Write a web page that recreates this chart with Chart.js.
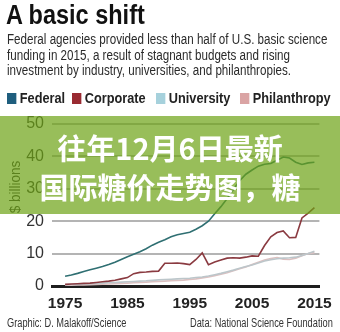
<!DOCTYPE html>
<html>
<head>
<meta charset="utf-8">
<script src="https://cdn.jsdelivr.net/npm/chart.js@4.4.1/dist/chart.umd.min.js"></script>
<style>
  html, body { margin: 0; padding: 0; background: #fff; }
  #wrap { position: relative; width: 340px; height: 332px; overflow: hidden; font-family: "Liberation Sans", Arial, sans-serif; color: #222; }
  #grafico { position: absolute; left: 0; top: 0; }
  .angosto { transform-origin: left top; white-space: nowrap; }
  #titulo { position: absolute; left: 6px; top: 1px; font-size: 27px; font-weight: bold; color: #111; line-height: 29px; transform: scaleX(0.87); }
  #subtitulo { position: absolute; left: 7px; top: 32px; font-size: 14px; line-height: 15.5px; color: #2a2a2a; transform: scaleX(0.83); }
  .leyenda { position: absolute; top: 90px; font-size: 15px; font-weight: bold; line-height: 15px; transform: scaleX(0.85); }
  .leyenda span { display: inline-block; width: 11px; height: 11px; margin-right: 4px; vertical-align: -1px; }
  #ytitulo { position: absolute; left: 14px; top: 187px; transform: translate(-50%, -50%) rotate(-90deg) scaleX(0.9); font-size: 15px; color: #333; white-space: nowrap; }
  #banda { position: absolute; left: 0; top: 116px; width: 340px; height: 98px; background: rgba(108, 162, 20, 0.7); }
  #banda div { position: absolute; left: 0; width: 340px; text-align: center; color: #fff; font-family: "Noto Sans CJK SC", sans-serif; font-weight: bold; font-size: 29px; line-height: 34px; }
  .credito { position: absolute; top: 316px; font-size: 12px; color: #333; transform: scaleX(0.77); }
</style>
</head>
<body>
<div id="wrap">
  <canvas id="grafico" width="340" height="332"></canvas>
  <div id="titulo" class="angosto">A basic shift</div>
  <div id="subtitulo" class="angosto">Federal agencies provided less than half of U.S. basic science<br>funding in 2015, a result of stagnant budgets and rising<br>investment by industry, universities, and philanthropies.</div>
  <div class="leyenda angosto" style="left:7px"><span style="background:#1f5e7e"></span>Federal</div>
  <div class="leyenda angosto" style="left:72px"><span style="background:#992a31"></span>Corporate</div>
  <div class="leyenda angosto" style="left:156px"><span style="background:#a6d1dc"></span>University</div>
  <div class="leyenda angosto" style="left:240px"><span style="background:#daa4a4"></span>Philanthropy</div>
  <div id="ytitulo">$ billions</div>
  <div id="banda">
    <div style="top:14px">往年12月6日最新</div>
    <div style="top:53px">国际糖价走势图，糖</div>
  </div>
  <div class="credito angosto" style="left:7px">Graphic: D. Malakoff/Science</div>
  <div class="credito angosto" style="left:190px">Data: National Science Foundation</div>
</div>
<script>
//años del eje x
const years = [1975, 1976, 1977, 1978, 1979, 1980, 1981, 1982, 1983, 1984,
  1985, 1986, 1987, 1988, 1989, 1990, 1991, 1992, 1993, 1994,
  1995, 1996, 1997, 1998, 1999, 2000, 2001, 2002, 2003, 2004,
  2005, 2006, 2007, 2008, 2009, 2010, 2011, 2012, 2013, 2014, 2015];

//valores ($ billions)
const federal = [3.0, 3.4, 3.9, 4.5, 5.0, 5.5, 6.0, 6.6, 7.3, 8.2,
  9.0, 9.8, 10.6, 11.5, 12.6, 13.5, 14.3, 15.2, 15.8, 16.2,
  16.6, 17.5, 18.6, 20.0, 22.3, 24.5, 27.0, 29.8, 32.5, 34.5,
  35.8, 37.0, 37.6, 37.8, 38.8, 39.8, 39.5, 38.2, 37.5, 38.0, 38.2];
const corporate = [0.5, 0.6, 0.7, 0.8, 0.9, 1.1, 1.3, 1.5, 1.8, 2.2,
  2.6, 3.8, 4.2, 4.3, 4.5, 4.6, 7.0, 7.0, 7.1, 6.9,
  6.6, 8.2, 10.2, 6.6, 7.4, 8.0, 8.6, 8.7, 8.6, 8.9,
  9.3, 9.2, 12.5, 15.2, 16.5, 17.0, 14.9, 15.0, 21.0, 22.5, 24.2];
const university = [0.4, 0.45, 0.5, 0.6, 0.7, 0.8, 0.9, 1.0, 1.1, 1.2,
  1.3, 1.4, 1.5, 1.6, 1.75, 1.9, 2.0, 2.1, 2.2, 2.3,
  2.4, 2.6, 2.8, 3.1, 3.5, 3.9, 4.4, 4.9, 5.5, 6.0,
  6.5, 7.1, 7.7, 8.1, 8.4, 8.6, 8.7, 8.9, 9.4, 10.0, 10.7];
const philanthropy = [0.2, 0.25, 0.3, 0.35, 0.4, 0.5, 0.55, 0.6, 0.7, 0.8,
  0.9, 1.0, 1.1, 1.2, 1.3, 1.4, 1.5, 1.6, 1.7, 1.8,
  2.0, 2.2, 2.5, 2.8, 3.2, 3.6, 4.1, 4.7, 5.3, 5.9,
  6.6, 7.3, 8.0, 8.5, 8.8, 8.3, 8.2, 8.6, 9.3, 10.0, 10.3];

const xTicks = [1975, 1985, 1995, 2005, 2015];
const yTicks = [0, 10, 20, 30, 40, 50];

//arma los puntos {x, y} para la escala lineal
function puntos(valores) {
  return valores.map(function (v, i) {
    return { x: years[i], y: v };
  });
}

function serie(label, valores, color) {
  return {
    label: label,
    data: puntos(valores),
    borderColor: color,
    borderWidth: 1.6,
    pointRadius: 0,
    tension: 0,
    fill: false,
  };
}

const data = {
  datasets: [
    serie("Federal", federal, "#2f6f72"),
    serie("Corporate", corporate, "#8a3a40"),
    serie("University", university, "#bcc6ca"),
    serie("Philanthropy", philanthropy, "#dcc0c0"),
  ],
};

const config = {
  type: "line",
  data: data,
  options: {
    responsive: false,
    animation: false,
    events: [],
    layout: { padding: { left: 0, right: 18, top: 124, bottom: 0 } },
    plugins: {
      legend: { display: false },
      tooltip: { enabled: false },
    },
    scales: {
      x: {
        type: "linear",
        min: 1972.9,
        max: 2015.8,
        afterBuildTicks: function (scale) {
          scale.ticks = xTicks.map(function (v) { return { value: v }; });
        },
        afterFit: function (scale) { scale.height = 46; },
        grid: { display: false, drawTicks: false },
        border: { display: true, color: "#1e1e1e", width: 3 },
        ticks: {
          padding: 8,
          color: "#222",
          font: { family: "Liberation Sans", size: 15.5, weight: "bold" },
          callback: function (v) { return String(v); },
          maxRotation: 0,
        },
      },
      y: {
        min: 0,
        max: 50,
        afterBuildTicks: function (scale) {
          scale.ticks = yTicks.map(function (v) { return { value: v }; });
        },
        afterFit: function (scale) { scale.width = 52; },
        grid: { color: "#b4b4b4", lineWidth: 2, drawTicks: false },
        border: { display: false },
        ticks: {
          padding: 8,
          color: "#333",
          font: { family: "Liberation Sans", size: 16 },
        },
      },
    },
  },
};

const myChart = new Chart(document.getElementById("grafico"), config);
</script>
</body>
</html>
